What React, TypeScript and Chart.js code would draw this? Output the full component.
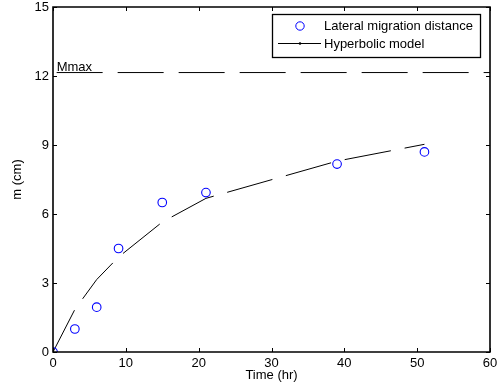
import React, { useEffect, useRef } from "react";
import { Chart, registerables } from "chart.js";

Chart.register(...registerables);

const timeHours = [0, 3, 6, 9, 15, 21, 39, 51];
const measuredM = [0, 1.0, 1.95, 4.5, 6.5, 6.93, 8.17, 8.7];
const modelM = [0, 1.85, 3.15, 4.13, 5.65, 6.68, 8.3, 9.03];
const mmaxValue = 12.15;
const mmaxRange = [0.5, 60];
const xTicks = [0, 10, 20, 30, 40, 50, 60];
const yTicks = [0, 3, 6, 9, 12, 15];

const FONT = "'Liberation Sans', Arial, Helvetica, sans-serif";

const framePlugin = {
  id: "frame",
  afterDraw(chart: any) {
    const { ctx, chartArea, scales } = chart;
    const { left, right, top, bottom } = chartArea;
    const xs = scales.x;
    const ys = scales.y;
    ctx.save();
    ctx.strokeStyle = "#000";
    ctx.lineWidth = 1.6;
    const L = Math.round(left);
    const R = Math.round(right);
    const T = Math.round(top);
    const B = Math.round(bottom);
    ctx.beginPath();
    ctx.rect(L, T, R - L, B - T);
    ctx.stroke();
    ctx.lineWidth = 1;
    const tl = 4;
    ctx.beginPath();
    xTicks.forEach((v) => {
      const px = Math.round(xs.getPixelForValue(v)) + 0.5;
      ctx.moveTo(px, B);
      ctx.lineTo(px, B - tl);
      ctx.moveTo(px, T);
      ctx.lineTo(px, T + tl);
    });
    yTicks.forEach((v) => {
      const py = Math.round(ys.getPixelForValue(v)) + 0.5;
      ctx.moveTo(L, py);
      ctx.lineTo(L + tl, py);
      ctx.moveTo(R, py);
      ctx.lineTo(R - tl, py);
    });
    ctx.stroke();

    // Mmax label
    ctx.fillStyle = "#000";
    ctx.font = `13px ${FONT}`;
    ctx.textBaseline = "alphabetic";
    ctx.textAlign = "left";
    ctx.fillText("Mmax", xs.getPixelForValue(0.5), ys.getPixelForValue(mmaxValue) - 2);

    // Legend
    const bx = 272.5, by = 14.5, bw = 208, bh = 43;
    ctx.fillStyle = "#fff";
    ctx.fillRect(bx, by, bw, bh);
    ctx.strokeStyle = "#000";
    ctx.lineWidth = 1.3;
    ctx.strokeRect(bx, by, bw, bh);
    ctx.lineWidth = 1;
    ctx.fillStyle = "#000";
    ctx.textBaseline = "middle";
    ctx.fillText("Lateral migration distance", 324, 26);
    ctx.fillText("Hyperbolic model", 324, 44);
    ctx.strokeStyle = "#0000ff";
    ctx.beginPath();
    ctx.arc(300, 26, 4.2, 0, Math.PI * 2);
    ctx.stroke();
    ctx.strokeStyle = "#000";
    ctx.beginPath();
    ctx.moveTo(278, 43.5);
    ctx.lineTo(321, 43.5);
    ctx.stroke();
    ctx.fillStyle = "#000";
    ctx.beginPath();
    ctx.arc(300, 43.5, 1.3, 0, Math.PI * 2);
    ctx.fill();
    ctx.restore();
  },
};

export default function App() {
  const ref = useRef<HTMLCanvasElement | null>(null);
  useEffect(() => {
    if (!ref.current) return;
    const chart = new Chart(ref.current, {
      type: "scatter",
      data: {
        datasets: [
          {
            label: "Lateral migration distance",
            data: timeHours.map((t, i) => ({ x: t, y: measuredM[i] })),
            showLine: false,
            pointStyle: "circle",
            pointRadius: 4.3,
            pointBorderWidth: 1.1,
            pointBorderColor: "#0000ff",
            pointBackgroundColor: "rgba(0,0,0,0)",
          },
          {
            label: "Hyperbolic model",
            data: timeHours.map((t, i) => ({ x: t, y: modelM[i] })),
            showLine: true,
            borderColor: "#000",
            borderWidth: 1,
            borderDash: [47, 14],
            pointRadius: 0,
            fill: false,
          },
          {
            label: "Mmax",
            data: mmaxRange.map((t) => ({ x: t, y: mmaxValue })),
            showLine: true,
            borderColor: "#000",
            borderWidth: 1,
            borderDash: [46, 15],
            pointRadius: 0,
            fill: false,
          },
        ] as any,
      },
      options: {
        animation: false,
        responsive: false,
        devicePixelRatio: 1,
        layout: { padding: { left: 0, right: 12, top: 7, bottom: 0 } },
        plugins: { legend: { display: false }, tooltip: { enabled: false } },
        scales: {
          x: {
            type: "linear",
            min: 0,
            max: 60,
            afterFit: (s: any) => {
              s.height = 39;
              s.paddingLeft = 0;
              s.paddingRight = 0;
            },
            afterBuildTicks: (s: any) => {
              s.ticks = xTicks.map((v) => ({ value: v }));
            },
            ticks: {
              color: "#000",
              padding: 4,
              font: { family: FONT, size: 13 },
              maxRotation: 0,
            },
            grid: { display: false, drawTicks: false },
            border: { display: false },
            title: {
              display: true,
              text: "Time (hr)",
              color: "#000",
              font: { family: FONT, size: 13 },
              padding: { top: 0, bottom: 8 },
            },
          },
          y: {
            type: "linear",
            min: 0,
            max: 15,
            afterFit: (s: any) => {
              s.width = 53;
              s.paddingTop = 0;
              s.paddingBottom = 0;
            },
            afterBuildTicks: (s: any) => {
              s.ticks = yTicks.map((v) => ({ value: v }));
            },
            ticks: {
              color: "#000",
              padding: 4,
              font: { family: FONT, size: 13 },
            },
            grid: { display: false, drawTicks: false },
            border: { display: false },
            title: {
              display: true,
              text: "m (cm)",
              color: "#000",
              font: { family: FONT, size: 13 },
              padding: { top: 10, bottom: 0 },
            },
          },
        },
      },
      plugins: [framePlugin],
    });
    return () => chart.destroy();
  }, []);
  return (
    <div style={{ position: "absolute", left: 0, top: 0, width: 502, height: 391, background: "#fff" }}>
      <canvas ref={ref} width={502} height={391} style={{ display: "block" }} />
    </div>
  );
}
